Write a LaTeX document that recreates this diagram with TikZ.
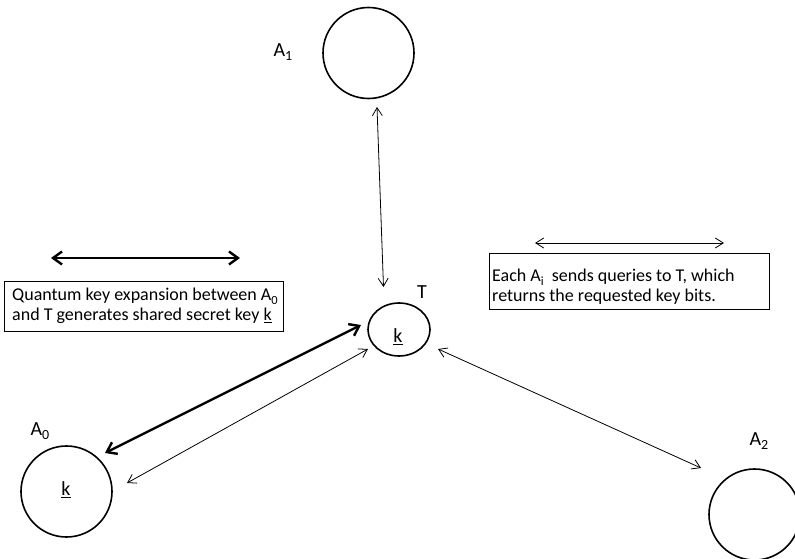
\documentclass[tikz,border=0pt]{standalone}
\usepackage{fontspec}
\setmainfont{Carlito}
\usetikzlibrary{arrows.meta,shapes.geometric}
\newcommand\mysub[1]{\raisebox{-0.45ex}{\fontsize{12.5}{12.5}\selectfont #1}}
\newcommand\lblsub[1]{\raisebox{-0.45ex}{\fontsize{14}{14}\selectfont #1}}
\newcommand\ulk{\underline{k}}
\begin{document}
\begin{tikzpicture}[x=1pt,y=-1pt,
  party/.style={circle,draw,line width=1.6pt,minimum size=91pt,inner sep=0pt},
  lbl/.style={font=\fontsize{20}{22}\selectfont,inner sep=0pt},
  thinarrow/.style={{Straight Barb[length=8pt,width=10pt]}-{Straight Barb[length=8pt,width=10pt]},line width=0.8pt},
  thickarrow/.style={{Straight Barb[length=9pt,width=13pt,line width=2.4pt]}-{Straight Barb[length=9pt,width=13pt,line width=2.4pt]},line width=2.4pt},
  textbox/.style={draw,line width=0.8pt,inner sep=0pt,anchor=north west},
  boxtext/.style={font=\fontsize{18}{20.5}\selectfont,align=left,anchor=north west,inner sep=0pt}]
\useasboundingbox (0,0) rectangle (795,559);
\clip (0,0) rectangle (795,559);
% parties
\node[party] (A1) at (368.5,53) {};
\node[party] (A0) at (66.5,491.5) {};
\node[party] (A2) at (754.5,514.5) {};
\node[ellipse,draw,line width=1.6pt,minimum width=62pt,minimum height=53pt,inner sep=0pt] (T) at (399,329.5) {};
% labels
\node[lbl] (lA1) at (283,52) {A\lblsub{1}};
\node[lbl] (lA0) at (40,431) {A\lblsub{0}};
\node[lbl] (lA2) at (759,441) {A\lblsub{2}};
\node[lbl] (lT) at (422,292) {T};
\node[lbl] (kT) at (398,337) {\ulk};
\node[lbl] (kA0) at (66,490) {\ulk};
% arrow end points
\coordinate (a1t) at (377,107);
\coordinate (ta1) at (383.5,287);
\coordinate (a0thick) at (105,453);
\coordinate (tthick) at (361,325);
\coordinate (a0thin) at (127,483);
\coordinate (tthin) at (368,349);
\coordinate (ta2) at (438,349);
\coordinate (a2t) at (701,468);
\draw[thinarrow] (a1t) -- (ta1);
\draw[thickarrow] (a0thick) -- (tthick);
\draw[thinarrow] (a0thin) -- (tthin);
\draw[thinarrow] (ta2) -- (a2t);
% legend
\coordinate (lg1a) at (51,258);
\coordinate (lg1b) at (240,258);
\coordinate (lg2a) at (535,243);
\coordinate (lg2b) at (724,243);
\draw[thickarrow] (lg1a) -- (lg1b);
\draw[thinarrow] (lg2a) -- (lg2b);
\node[textbox,minimum width=279pt,minimum height=50pt] (box1) at (4,281) {};
\node[boxtext] (t1) at (12,287.5) {Quantum key expansion between A\mysub{0}\\and T generates shared secret key \ulk};
\node[textbox,minimum width=280pt,minimum height=56pt] (box2) at (489,253) {};
\node[boxtext] (t2) at (492,268.5) {Each A\mysub{i}\ \ sends queries to T, which\\returns the requested key bits.};
\end{tikzpicture}
\end{document}
